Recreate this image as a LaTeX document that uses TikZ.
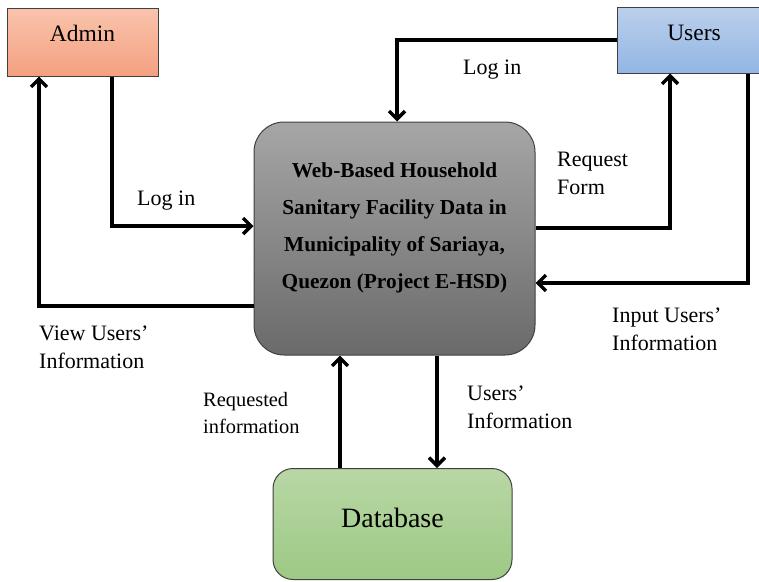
\documentclass[tikz,border=0pt]{standalone}
\usepackage{fontspec}
\setmainfont{Liberation Serif}
\usetikzlibrary{arrows.meta}

\tikzset{
  box/.style={draw=black!75, line width=1pt, inner sep=0pt},
  flow/.style={line width=3.4pt, -{Straight Barb[length=8pt,width=16pt]}},
  tag/.style={inner sep=0pt, align=left, anchor=base west,
    font=\fontsize{22}{28}\selectfont},
}

\begin{document}
\begin{tikzpicture}[x=1pt, y=-1pt]
\useasboundingbox (0,0) rectangle (759,581);

% external entities
\node[box, minimum width=151pt, minimum height=68pt,
      top color={rgb,255:red,249;green,196;blue,172},
      bottom color={rgb,255:red,244;green,160;blue,128},
      label={[yshift=9pt, font=\fontsize{23.5}{28}\selectfont]center:Admin}]
  (admin) at (82.5,42) {};
\node[box, minimum width=154pt, minimum height=66pt,
      top color={rgb,255:red,187;green,208;blue,236},
      bottom color={rgb,255:red,146;green,182;blue,227},
      label={[yshift=7pt, font=\fontsize{23.5}{28}\selectfont]center:Users}]
  (users) at (694,40) {};

% the system process
\node[box, rounded corners=30pt, minimum width=281pt, minimum height=233pt,
      top color={rgb,255:red,166;green,166;blue,166},
      bottom color={rgb,255:red,106;green,106;blue,106},
      label={[yshift=10.5pt, align=center,
              font=\bfseries\fontsize{21.3}{37}\selectfont]center:
        Web-Based Household\\Sanitary Facility Data in\\
        Municipality of Sariaya,\\Quezon (Project E-HSD)}]
  (sys) at (394.5,238.5) {};

% data store
\node[box, rounded corners=20pt, minimum width=239pt, minimum height=111pt,
      top color={rgb,255:red,184;green,215;blue,165},
      bottom color={rgb,255:red,157;green,201;blue,133},
      label={[yshift=6pt, font=\fontsize{28}{32}\selectfont]center:Database}]
  (db) at (392.5,524) {};

% data flows
\draw[flow] ([xshift=29.5pt]admin.south) |- ([yshift=12.5pt]sys.west);
\draw[flow] ([yshift=-67.5pt]sys.west) -| ([xshift=-43.5pt]admin.south);
\draw[flow] (users.west) -| ([xshift=2.5pt]sys.north);
\draw[flow] ([yshift=10.5pt]sys.east) -| ([xshift=-24pt]users.south);
\draw[flow] ([xshift=54pt]users.south) |- ([yshift=-44.5pt]sys.east);
\draw[flow] ([xshift=-52.5pt]db.north) -- ([xshift=-52.5pt]db.north |- sys.south);
\draw[flow] ([xshift=42.5pt]sys.south) -- ([xshift=42.5pt]sys.south |- db.north);

% flow labels (multi-line labels sit on the baseline of their last line)
\node[tag] (l1) at (137,205) {Log in};
\node[tag] (l2) at (463,74) {Log in};
\node[tag] (l3) at (557,194) {Request\\Form};
\node[tag] (l4) at (612,350) {Input Users’\\Information};
\node[tag] (l5) at (39,368) {View Users’\\Information};
\node[tag, font=\fontsize{20.4}{27}\selectfont] (l6) at (203,433) {Requested\\information};
\node[tag] (l7) at (467,428) {Users’\\Information};
\end{tikzpicture}
\end{document}
